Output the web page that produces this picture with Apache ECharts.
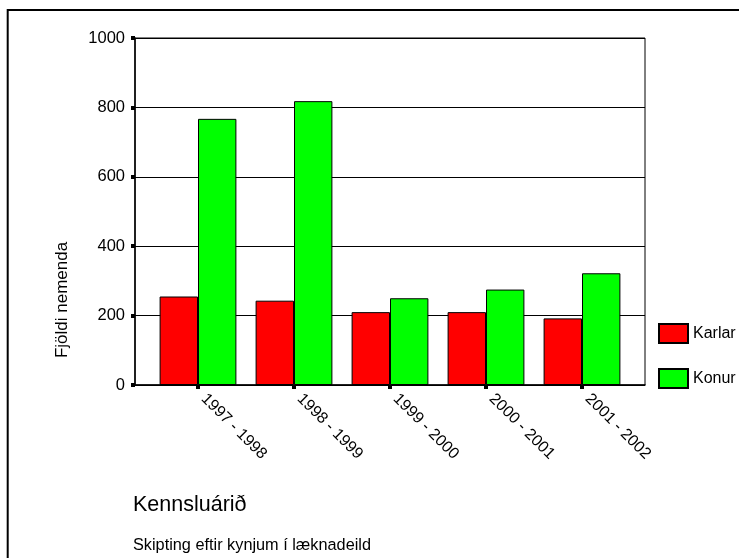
<!DOCTYPE html>
<html>
<head>
<meta charset="utf-8">
<script src="https://cdn.jsdelivr.net/npm/echarts@6/dist/echarts.min.js"></script>
<style>html,body{margin:0;padding:0;background:#fff;}#c{width:739px;height:558px;}</style>
</head>
<body>
<div id="c"></div>
<script>
const categories = ['1997 - 1998', '1998 - 1999', '1999 - 2000', '2000 - 2001', '2001 - 2002'];
const karlar = [255, 243, 210, 210, 192];
const konur = [767, 818, 250, 275, 322];
const seriesNames = ['Karlar', 'Konur'];
const yTicks = [0, 200, 400, 600, 800, 1000];

const FF = '"Liberation Sans", Arial, Helvetica, sans-serif';
const chart = echarts.init(document.getElementById('c'), null, {renderer: 'canvas'});
chart.setOption({
  animation: false,
  backgroundColor: '#fff',
  textStyle: {fontFamily: FF, color: '#000'},
  grid: [
    {left: 135, top: 38, width: 510, height: 347, show: true, borderColor: '#000', borderWidth: 1, backgroundColor: 'transparent'},
    {left: 150, top: 38, width: 480, height: 347}
  ],
  xAxis: [
    {gridIndex: 0, type: 'value', min: 0, max: 1, axisLine: {show: true, lineStyle: {color: '#000', width: 1.5}},
     axisTick: {show: false}, axisLabel: {show: false}, splitLine: {show: false}},
    {gridIndex: 1, type: 'category', data: categories, boundaryGap: true,
     axisLine: {show: false},
     axisTick: {show: true, alignWithLabel: true, length: 4, lineStyle: {color: '#000', width: 4}},
     axisLabel: {rotate: -45, margin: 17, verticalAlign: 'bottom', fontSize: 16, color: '#000', fontFamily: FF, interval: 0}}
  ],
  yAxis: [
    {gridIndex: 0, type: 'value', min: yTicks[0], max: yTicks[yTicks.length - 1], interval: 200,
     axisLine: {show: true, lineStyle: {color: '#000', width: 1.5}},
     axisTick: {show: true, length: 4, lineStyle: {color: '#000', width: 4}},
     axisLabel: {margin: 10, fontSize: 16.5, color: '#000', fontFamily: FF, formatter: function (v) { return String(v); }},
     splitLine: {show: true, lineStyle: {color: '#000', width: 1}}},
    {gridIndex: 1, type: 'value', min: 0, max: 1000, show: false, splitLine: {show: false}}
  ],
  legend: {
    orient: 'vertical', left: 658, top: 323, padding: 0, itemWidth: 29, itemHeight: 19, itemGap: 24, icon: 'rect',
    textStyle: {fontSize: 16, color: '#000', fontFamily: FF},
    data: seriesNames
  },
  series: [
    {name: seriesNames[0], type: 'bar', xAxisIndex: 1, yAxisIndex: 1, data: karlar,
     barGap: '0%', barCategoryGap: '20%',
     itemStyle: {color: '#ff0000', borderColor: '#000', borderWidth: 1}},
    {name: seriesNames[1], type: 'bar', xAxisIndex: 1, yAxisIndex: 1, data: konur,
     barGap: '0%', barCategoryGap: '20%',
     itemStyle: {color: '#00ff00', borderColor: '#000', borderWidth: 1}}
  ],
  graphic: [
    {type: 'rect', shape: {x: 7.7, y: 10, width: 800, height: 600},
     style: {fill: 'none', stroke: '#000', lineWidth: 2}, silent: true, z: -1},
    {type: 'text', x: 62, y: 300, rotation: Math.PI / 2,
     style: {text: 'Fjöldi nemenda', fontSize: 17, fill: '#000', fontFamily: FF, align: 'center', verticalAlign: 'middle'}},
    {type: 'text', x: 133, y: 505,
     style: {text: 'Kennsluárið', fontSize: 21.5, fill: '#000', fontFamily: FF, align: 'left', verticalAlign: 'middle'}},
    {type: 'text', x: 133, y: 546,
     style: {text: 'Skipting eftir kynjum í læknadeild', fontSize: 16.3, fill: '#000', fontFamily: FF, align: 'left', verticalAlign: 'middle'}}
  ]
});
</script>
</body>
</html>
